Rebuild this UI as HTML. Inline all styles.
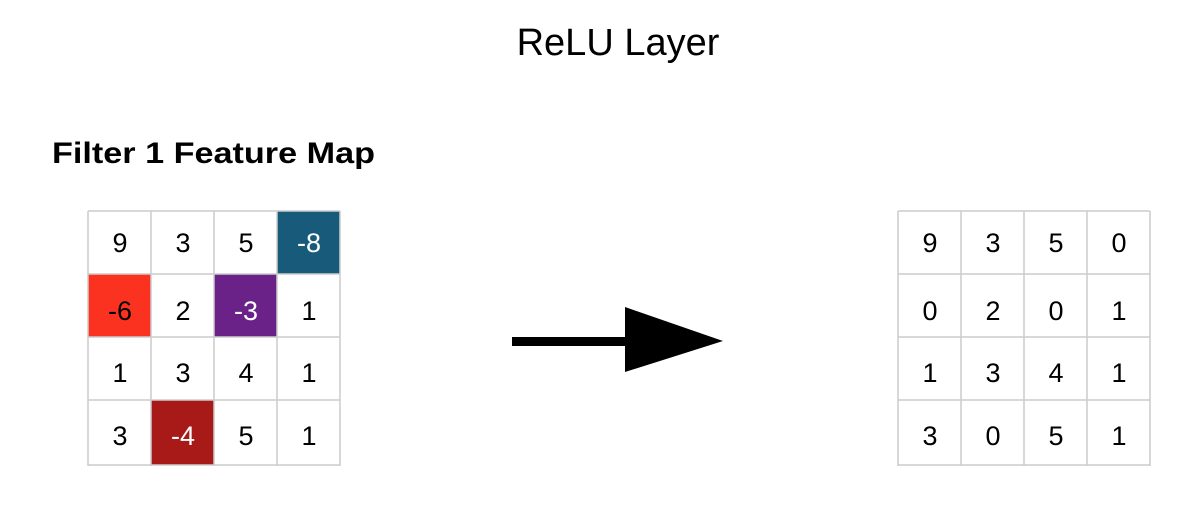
<!DOCTYPE html>
<html><head><meta charset="utf-8"><style>body{margin:0;background:#fff}</style></head><body>
<svg width="1200" height="517" xmlns="http://www.w3.org/2000/svg" font-family="Liberation Sans, sans-serif">
<rect width="1200" height="517" fill="#fff"/>
<text x="618" y="55" font-size="38" text-anchor="middle" fill="#000">ReLU Layer</text>
<text x="52" y="163" font-size="30" font-weight="bold" fill="#000" textLength="323" lengthAdjust="spacingAndGlyphs">Filter 1 Feature Map</text>
<g>
<rect x="277" y="211" width="63" height="63" fill="#175a7a"/>
<rect x="88" y="274" width="63" height="63" fill="#fb3220"/>
<rect x="214" y="274" width="63" height="63" fill="#6a2288"/>
<rect x="151" y="400" width="63" height="65" fill="#a81a17"/>
<g stroke="#ccc" stroke-width="1.5" fill="none">
<path d="M88 211V466M151 211V466M214 211V466M277 211V466M340 211V466M88 211H340M88 274H340M88 337H340M88 400H340M88 465H340"/>
</g>
<g font-size="27" text-anchor="middle">
<text x="120" y="252">9</text><text x="183" y="252">3</text><text x="246" y="252">5</text><text x="309" y="252" fill="#fff">-8</text>
<text x="120" y="320">-6</text><text x="183" y="320">2</text><text x="246" y="320" fill="#fff">-3</text><text x="309" y="320">1</text>
<text x="120" y="382">1</text><text x="183" y="382">3</text><text x="246" y="382">4</text><text x="309" y="382">1</text>
<text x="120" y="445">3</text><text x="183" y="445" fill="#fff">-4</text><text x="246" y="445">5</text><text x="309" y="445">1</text>
</g>
</g>
<g>
<g stroke="#ccc" stroke-width="1.5" fill="none">
<path d="M898 211V466M961 211V466M1024 211V466M1087 211V466M1150 211V466M898 211H1150M898 274H1150M898 337H1150M898 400H1150M898 465H1150"/>
</g>
<g font-size="27" text-anchor="middle">
<text x="930" y="252">9</text><text x="993" y="252">3</text><text x="1056" y="252">5</text><text x="1119" y="252">0</text>
<text x="930" y="320">0</text><text x="993" y="320">2</text><text x="1056" y="320">0</text><text x="1119" y="320">1</text>
<text x="930" y="382">1</text><text x="993" y="382">3</text><text x="1056" y="382">4</text><text x="1119" y="382">1</text>
<text x="930" y="445">3</text><text x="993" y="445">0</text><text x="1056" y="445">5</text><text x="1119" y="445">1</text>
</g>
</g>
<rect x="512" y="337" width="116" height="9" fill="#000"/>
<polygon points="625,307 625,372 723,341" fill="#000"/>
</svg>
</body></html>
